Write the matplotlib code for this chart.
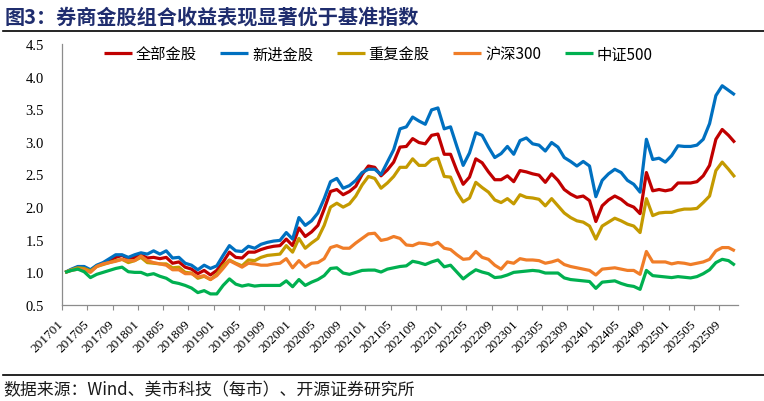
import matplotlib
matplotlib.use("Agg")
import matplotlib.pyplot as plt
from matplotlib.lines import Line2D

CJK = ["Noto Sans CJK SC", "DejaVu Sans"]
SERIF = ["Liberation Serif", "DejaVu Serif"]

title = "图3：券商金股组合收益表现显著优于基准指数"
source = "数据来源：Wind、美市科技（每市）、开源证券研究所"

months = [f"{y}{m:02d}" for y in range(2017, 2026) for m in range(1, 13)][:107]

tick_labels = ["201701", "201705", "201709", "201801", "201805", "201809",
               "201901", "201905", "201909", "202001", "202005", "202009",
               "202101", "202105", "202109", "202201", "202205", "202209",
               "202301", "202305", "202309", "202401", "202405", "202409",
               "202501", "202505", "202509"]

series_names = ["全部金股", "新进金股", "重复金股", "沪深300", "中证500"]

all_gold = [1.00, 1.04, 1.08, 1.08, 1.03, 1.10, 1.14, 1.18, 1.23, 1.26, 1.21, 1.23,
            1.27, 1.22, 1.23, 1.21, 1.23, 1.14, 1.16, 1.08, 1.05, 0.98, 1.03, 0.96,
            1.03, 1.16, 1.31, 1.23, 1.22, 1.31, 1.31, 1.35, 1.38, 1.40, 1.41, 1.51,
            1.41, 1.68, 1.55, 1.62, 1.72, 1.97, 2.24, 2.27, 2.19, 2.24, 2.32, 2.50,
            2.63, 2.61, 2.48, 2.57, 2.69, 2.92, 2.93, 3.05, 2.99, 2.97, 3.10, 3.12,
            2.81, 2.81, 2.56, 2.35, 2.46, 2.74, 2.68, 2.54, 2.42, 2.42, 2.48, 2.39,
            2.56, 2.54, 2.51, 2.49, 2.38, 2.51, 2.41, 2.27, 2.20, 2.15, 2.17, 2.10,
            1.78, 2.02, 2.11, 2.17, 2.12, 2.04, 2.00, 1.90, 2.53, 2.25, 2.27, 2.25,
            2.27, 2.37, 2.37, 2.37, 2.39, 2.48, 2.64, 3.04, 3.19, 3.10, 2.99]

new_gold = [1.00, 1.05, 1.09, 1.09, 1.04, 1.11, 1.15, 1.21, 1.27, 1.27, 1.23, 1.27,
            1.30, 1.28, 1.33, 1.28, 1.33, 1.22, 1.23, 1.14, 1.11, 1.04, 1.11, 1.06,
            1.10, 1.26, 1.41, 1.33, 1.32, 1.40, 1.37, 1.43, 1.46, 1.48, 1.49, 1.61,
            1.51, 1.84, 1.72, 1.79, 1.91, 2.13, 2.39, 2.44, 2.29, 2.33, 2.41, 2.53,
            2.58, 2.58, 2.50, 2.69, 2.88, 3.20, 3.23, 3.38, 3.32, 3.27, 3.49, 3.52,
            3.20, 3.23, 2.93, 2.64, 2.83, 3.14, 3.10, 2.92, 2.76, 2.82, 2.93, 2.81,
            3.02, 3.06, 2.97, 2.95, 2.86, 2.99, 2.92, 2.76, 2.70, 2.63, 2.70, 2.63,
            2.16, 2.41, 2.51, 2.58, 2.53, 2.41, 2.35, 2.23, 3.04, 2.73, 2.75, 2.69,
            2.79, 2.94, 2.93, 2.93, 2.95, 3.04, 3.28, 3.71, 3.86, 3.79, 3.72]

repeat_gold = [1.00, 1.04, 1.07, 1.06, 1.02, 1.09, 1.12, 1.15, 1.18, 1.20, 1.15, 1.18,
               1.23, 1.15, 1.14, 1.13, 1.13, 1.07, 1.08, 1.00, 0.99, 0.91, 0.94, 0.89,
               0.97, 1.10, 1.19, 1.14, 1.10, 1.19, 1.18, 1.23, 1.26, 1.27, 1.28, 1.41,
               1.31, 1.52, 1.37, 1.45, 1.52, 1.72, 2.00, 2.06, 2.00, 2.05, 2.17, 2.34,
               2.47, 2.44, 2.29, 2.37, 2.47, 2.61, 2.61, 2.74, 2.64, 2.64, 2.73, 2.75,
               2.47, 2.46, 2.23, 2.08, 2.14, 2.38, 2.30, 2.23, 2.11, 2.07, 2.13, 2.05,
               2.19, 2.15, 2.14, 2.12, 2.02, 2.13, 2.02, 1.91, 1.84, 1.79, 1.77, 1.71,
               1.51, 1.71, 1.77, 1.83, 1.79, 1.74, 1.71, 1.61, 2.13, 1.87, 1.91, 1.92,
               1.92, 1.95, 1.97, 1.97, 1.98, 2.07, 2.17, 2.56, 2.69, 2.58, 2.46]

hs300 = [1.00, 1.03, 1.05, 1.04, 1.00, 1.09, 1.13, 1.15, 1.17, 1.20, 1.18, 1.18,
         1.25, 1.18, 1.15, 1.13, 1.11, 1.04, 1.04, 0.98, 0.98, 0.93, 0.95, 0.89,
         0.95, 1.06, 1.18, 1.13, 1.08, 1.14, 1.13, 1.11, 1.11, 1.13, 1.14, 1.21,
         1.07, 1.18, 1.08, 1.14, 1.15, 1.21, 1.38, 1.41, 1.37, 1.37, 1.45, 1.52,
         1.59, 1.60, 1.49, 1.51, 1.55, 1.52, 1.42, 1.41, 1.45, 1.44, 1.42, 1.46,
         1.37, 1.35, 1.27, 1.20, 1.21, 1.32, 1.23, 1.20, 1.11, 1.05, 1.16, 1.14,
         1.21, 1.19, 1.19, 1.18, 1.14, 1.16, 1.19, 1.12, 1.09, 1.07, 1.05, 1.03,
         0.96, 1.05, 1.06, 1.07, 1.05, 1.03, 1.03, 0.97, 1.32, 1.16, 1.16, 1.16,
         1.13, 1.15, 1.14, 1.12, 1.14, 1.16, 1.20, 1.33, 1.38, 1.38, 1.33]

zz500 = [1.00, 1.03, 1.05, 1.01, 0.92, 0.97, 1.00, 1.03, 1.06, 1.08, 1.01, 1.00,
         1.00, 0.96, 0.98, 0.94, 0.91, 0.85, 0.83, 0.80, 0.76, 0.69, 0.72, 0.67,
         0.67, 0.80, 0.90, 0.82, 0.79, 0.81, 0.79, 0.80, 0.80, 0.80, 0.80, 0.87,
         0.78, 0.89, 0.80, 0.85, 0.89, 0.95, 1.06, 1.07, 0.99, 0.97, 1.00, 1.03,
         1.035, 1.035, 1.005, 1.05, 1.07, 1.09, 1.10, 1.17, 1.15, 1.12, 1.16, 1.19,
         1.085, 1.11, 1.005, 0.90, 0.975, 1.04, 1.005, 0.98, 0.92, 0.93, 0.96, 1.00,
         1.01, 1.02, 1.03, 1.02, 0.99, 0.99, 0.99, 0.915, 0.89, 0.88, 0.87, 0.86,
         0.755, 0.85, 0.86, 0.87, 0.83, 0.80, 0.785, 0.74, 1.03, 0.95, 0.94, 0.93,
         0.92, 0.935, 0.925, 0.915, 0.935, 0.98, 1.04, 1.15, 1.20, 1.18, 1.11]

colors = ["#C00000", "#0070C0", "#C49A00", "#F07D28", "#00B050"]
values = [all_gold, new_gold, repeat_gold, hs300, zz500]

W, H = 764, 402
fig = plt.figure(figsize=(W / 100, H / 100), dpi=100)
ax = fig.add_axes([62 / W, 1 - 306 / H, 676 / W, 261 / H])

x = list(range(len(months)))
for name, vals, c in zip(series_names, values, colors):
    ax.plot(x, vals, color=c, lw=2.3, label=name, solid_joinstyle="round",
            solid_capstyle="butt")

ax.set_xlim(-0.5, len(months) - 0.5)
ax.set_ylim(0.5, 4.5)
yt = [0.5, 1.0, 1.5, 2.0, 2.5, 3.0, 3.5, 4.0, 4.5]
ax.set_yticks(yt)
ax.set_yticklabels([f"{v:.1f}" for v in yt], family=SERIF, fontsize=10.5)
ax.tick_params(axis="y", length=0, pad=13, colors="#000000")

xt = [4 * k - 0.5 for k in range(len(tick_labels))]
ax.set_xticks(xt)
ax.set_xticklabels(tick_labels, rotation=45, ha="right", va="center",
                   rotation_mode="anchor", family=SERIF, fontsize=9.5)
ax.tick_params(axis="x", length=3.5, width=0.8, color="#8C8C8C", pad=8.5,
               direction="out")

for s in ["top", "right"]:
    ax.spines[s].set_visible(False)
for s in ["left", "bottom"]:
    ax.spines[s].set_color("#8C8C8C")
    ax.spines[s].set_linewidth(0.9)

ax.legend(loc="center left", bbox_to_anchor=((104 - 62) / 676, (306 - 55) / 261),
          ncol=5, frameon=False, handlelength=1.83, handletextpad=0.25,
          columnspacing=1.55, borderpad=0, borderaxespad=0,
          prop={"family": CJK, "size": 11})

fig.text(5 / W, 1 - 17 / H, title, fontsize=14.5, weight="bold",
         color="#1F2D6E", va="center", ha="left", family=CJK)
fig.text(3 / W, 1 - 390 / H, source, fontsize=12.2, color="#1A1A1A",
         va="center", ha="left", family=CJK)

for yy in [32, 376]:
    fig.add_artist(Line2D([3 / W, 1.0], [1 - yy / H, 1 - yy / H],
                          color="black", lw=1.2))

fig.savefig("out.png", dpi=100)
